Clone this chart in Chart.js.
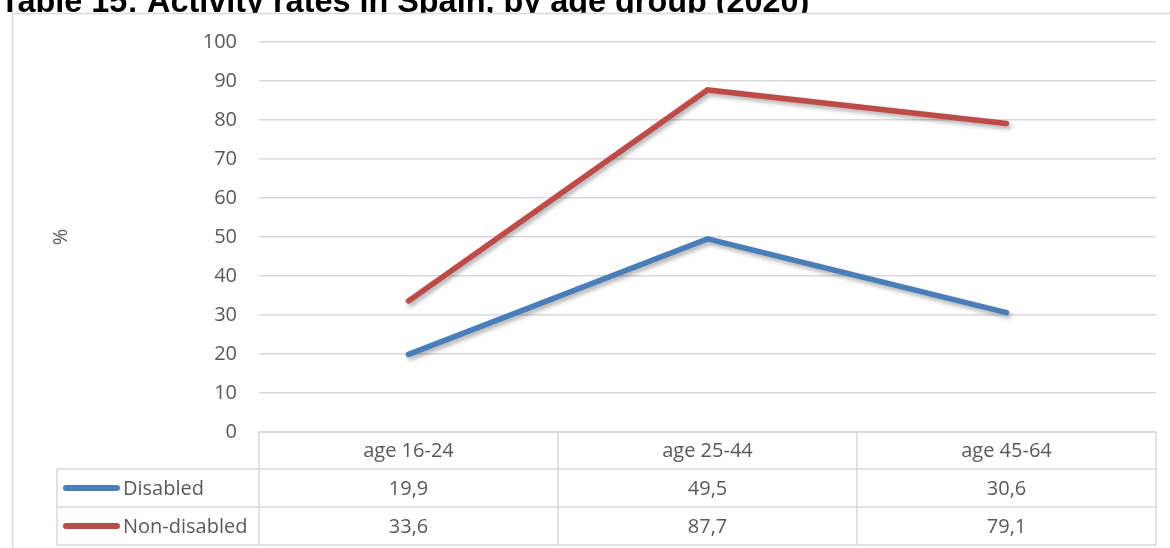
<!DOCTYPE html>
<html>
<head>
<meta charset="utf-8">
<script src="https://cdn.jsdelivr.net/npm/chart.js@4"></script>
<style>
  html, body { margin: 0; padding: 0; background: #fff; }
  #wrap { position: relative; width: 1170px; height: 548px; overflow: hidden; }
</style>
</head>
<body>
<div id="wrap"><canvas id="chart" width="1170" height="548"></canvas></div>
<script>
// data
const title = "Table 15: Activity rates in Spain, by age group (2020)";
const categories = ["age 16-24", "age 25-44", "age 45-64"];
const disabled = [19.9, 49.5, 30.6];
const nonDisabled = [33.6, 87.7, 79.1];
const seriesNames = ["Disabled", "Non-disabled"];
const seriesColors = ["#4A7EBB", "#BE4B48"];
const yMin = 0, yMax = 100, yStep = 10;

const textColor = "#595959";
const lineColor = "#D9D9D9";
const font = "'Open Sans', sans-serif";

function fmt(v) {
  return v.toFixed(1).replace(".", ",");
}

// title + outer frame, drawn before the chart
const framePlugin = {
  id: "frame",
  beforeDraw(chart) {
    const ctx = chart.ctx;
    ctx.save();
    ctx.fillStyle = "#fff";
    ctx.fillRect(0, 0, chart.width, chart.height);
    ctx.fillStyle = "#000";
    ctx.font = "bold 32.4px 'Liberation Sans', Arial, sans-serif";
    ctx.textBaseline = "alphabetic";
    ctx.textAlign = "left";
    ctx.fillText(title, 0, 12);
    // chart box covers the bottom of the title
    ctx.fillStyle = "#fff";
    ctx.fillRect(12, 13, chart.width, chart.height);
    ctx.strokeStyle = lineColor;
    ctx.lineWidth = 1.5;
    ctx.strokeRect(12.5, 13.5, chart.width + 10, chart.height + 10);
    ctx.restore();
  }
};

// soft shadow under the lines
const shadowPlugin = {
  id: "shadow",
  beforeDatasetDraw(chart) {
    const ctx = chart.ctx;
    ctx.save();
    ctx.shadowColor = "rgba(0,0,0,0.3)";
    ctx.shadowBlur = 4;
    ctx.shadowOffsetX = 2;
    ctx.shadowOffsetY = 3;
  },
  afterDatasetDraw(chart) {
    chart.ctx.restore();
  }
};

// data table under the plot
const tablePlugin = {
  id: "dataTable",
  afterDraw(chart) {
    const ctx = chart.ctx;
    const x = chart.scales.x;
    const area = chart.chartArea;
    const half = (x.getPixelForValue(1) - x.getPixelForValue(0)) / 2;
    const legendLeft = 57;
    const rows = [area.bottom, 469, 507, 545];
    const colEdges = [area.left];
    categories.forEach((c, i) => colEdges.push(x.getPixelForValue(i) + half));

    ctx.save();
    ctx.strokeStyle = lineColor;
    ctx.lineWidth = 1.5;
    ctx.beginPath();
    // header row
    ctx.moveTo(area.left, rows[0]); ctx.lineTo(area.right, rows[0]);
    for (let r = 1; r < rows.length; r++) {
      ctx.moveTo(legendLeft, rows[r]); ctx.lineTo(area.right, rows[r]);
    }
    colEdges.forEach((cx) => {
      ctx.moveTo(cx, rows[0]); ctx.lineTo(cx, rows[3]);
    });
    ctx.moveTo(legendLeft, rows[1]); ctx.lineTo(legendLeft, rows[3]);
    ctx.stroke();

    ctx.fillStyle = textColor;
    ctx.font = "20px " + font;
    ctx.textBaseline = "middle";
    ctx.textAlign = "center";
    categories.forEach((c, i) => {
      ctx.fillText(c, x.getPixelForValue(i), (rows[0] + rows[1]) / 2 + 1);
    });
    [disabled, nonDisabled].forEach((vals, s) => {
      const cy = (rows[s + 1] + rows[s + 2]) / 2 + 1;
      vals.forEach((v, i) => {
        ctx.fillText(fmt(v), x.getPixelForValue(i), cy);
      });
      // legend key
      ctx.save();
      ctx.strokeStyle = seriesColors[s];
      ctx.lineWidth = 6;
      ctx.lineCap = "round";
      ctx.beginPath();
      ctx.moveTo(66, cy - 1); ctx.lineTo(117, cy - 1);
      ctx.stroke();
      ctx.restore();
      ctx.textAlign = "left";
      ctx.fillText(seriesNames[s], 123, cy);
      ctx.textAlign = "center";
    });
    ctx.restore();
  }
};

new Chart(document.getElementById("chart"), {
  type: "line",
  data: {
    labels: categories,
    datasets: [
      { label: seriesNames[0], data: disabled, borderColor: seriesColors[0] },
      { label: seriesNames[1], data: nonDisabled, borderColor: seriesColors[1] }
    ]
  },
  options: {
    responsive: false,
    animation: false,
    events: [],
    layout: { padding: { left: 49, right: 14, top: 42, bottom: 116 } },
    elements: {
      line: { borderWidth: 5.5, tension: 0, borderCapStyle: "round", borderJoinStyle: "miter", fill: false },
      point: { radius: 0, hoverRadius: 0 }
    },
    plugins: { legend: { display: false }, tooltip: { enabled: false } },
    scales: {
      x: { type: "category", offset: true, display: false },
      y: {
        min: yMin,
        max: yMax,
        ticks: { stepSize: yStep, color: textColor, padding: 22, font: { family: font, size: 20 } },
        grid: { color: lineColor, lineWidth: 1.5, drawTicks: false },
        border: { display: false },
        title: { display: true, text: "%", color: textColor, padding: 0, font: { family: font, size: 20 } },
        afterFit(scale) { scale.width = 210; }
      }
    }
  },
  plugins: [framePlugin, shadowPlugin, tablePlugin]
});
</script>
</body>
</html>
